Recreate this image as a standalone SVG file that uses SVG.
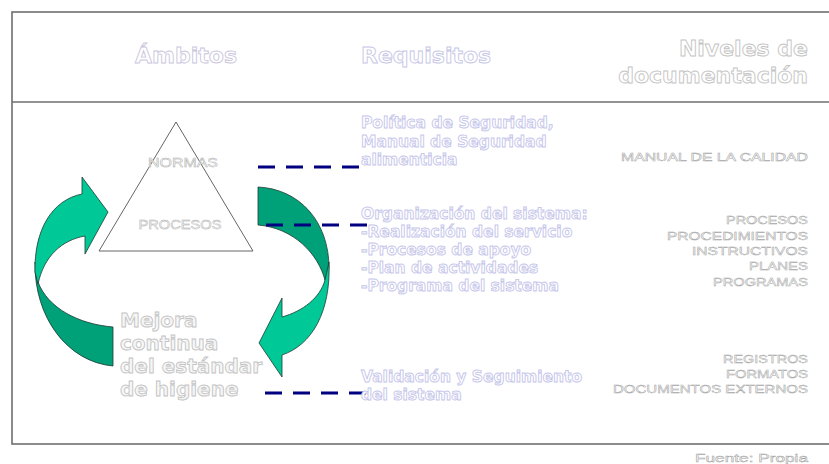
<svg xmlns="http://www.w3.org/2000/svg" width="829" height="464" viewBox="0 0 829 464">
<style>
.frame{fill:none;stroke:#6e6e6e;stroke-width:1.6}
.hdr{font-family:"DejaVu Sans",Verdana,sans-serif;font-weight:bold;font-size:22px;fill:#fff;stroke-width:0.9}
.req{font-family:"DejaVu Sans",Verdana,sans-serif;font-weight:bold;font-size:15.5px;fill:#fff;stroke:#c6c6ea;stroke-width:0.9}
.doc{font-family:"Liberation Sans",Arial,sans-serif;font-size:11.5px;fill:#fff;stroke:#a4a4a4;stroke-width:0.45;text-anchor:end}
.tri{font-family:"Liberation Sans",Arial,sans-serif;font-size:12.5px;fill:#fff;stroke:#aaaaaa;stroke-width:0.45;text-anchor:middle}
.mej{font-family:"DejaVu Sans",Verdana,sans-serif;font-weight:bold;font-size:20px;fill:#f6f6f6;stroke:#c4c4c4;stroke-width:0.9}
.light{fill:#00c896;stroke:#1e3b32;stroke-width:0.8}
.dark{fill:#00a078;stroke:#1e3b32;stroke-width:0.8}
.dash{stroke:#000080;stroke-width:3;stroke-dasharray:17 11;fill:none}
</style>
<g id="frame">
<rect class="frame" x="12" y="12" width="830" height="432"/>
<line class="frame" x1="12" y1="102" x2="829" y2="102"/>
</g>
<g id="headers">
<text class="hdr" x="186" y="63" text-anchor="middle" stroke="#cbc6de">Ámbitos</text>
<text class="hdr" x="361" y="63" stroke="#c6c6e6">Requisitos</text>
<text class="hdr" x="808" y="56" text-anchor="end" stroke="#c4c4c4">Niveles de</text>
<text class="hdr" x="808" y="83" text-anchor="end" stroke="#c4c4c4">documentación</text>
</g>
<g id="left-arrow">
<path class="dark" d="M35,262 C34,318 68,362 113,366 L113,327 C78,324 48,308 38,282 Z"/>
<path class="light" d="M35,272 C34,230 52,200 82,194 L82,177 L108,212 L85,254 L85,236 C62,240 44,256 38,284 Z"/>
</g>
<g id="right-arrow">
<path class="dark" d="M258,187 C300,189 329,222 329,268 L325,280 C318,254 294,228 258,225 Z"/>
<path class="light" d="M329,262 C331,312 312,345 282,355 L282,377 L259,343 L282,298 L282,317 C303,311 320,298 325,280 Z"/>
</g>
<g id="triangle">
<polygon points="176,122 99,251 253,251" fill="#fff" stroke="#666" stroke-width="1"/>
<text class="tri" x="183" y="167" textLength="70" lengthAdjust="spacingAndGlyphs">NORMAS</text>
<text class="tri" x="180" y="229" textLength="83" lengthAdjust="spacingAndGlyphs">PROCESOS</text>
</g>
<g id="mejora">
<text class="mej" x="120" y="327">Mejora</text>
<text class="mej" x="120" y="350">continua</text>
<text class="mej" x="120" y="373">del estándar</text>
<text class="mej" x="120" y="396">de higiene</text>
</g>
<g id="connectors">
<line class="dash" x1="258" y1="167" x2="361" y2="167"/>
<line class="dash" x1="266" y1="225" x2="367" y2="225"/>
<line class="dash" x1="265" y1="393" x2="367" y2="393"/>
</g>
<g id="req-politica">
<text class="req" x="361" y="128">Política de Seguridad,</text>
<text class="req" x="361" y="146.5">Manual de Seguridad</text>
<text class="req" x="361" y="165">alimenticia</text>
</g>
<g id="req-organizacion">
<text class="req" x="361" y="219">Organización del sistema:</text>
<text class="req" x="361" y="237">-Realización del servicio</text>
<text class="req" x="361" y="255">-Procesos de apoyo</text>
<text class="req" x="361" y="273">-Plan de actividades</text>
<text class="req" x="361" y="291">-Programa del sistema</text>
</g>
<g id="req-validacion">
<text class="req" x="361" y="382">Validación y Seguimiento</text>
<text class="req" x="361" y="400">del sistema</text>
</g>
<g id="doc-manual">
<text class="doc" x="808" y="161" textLength="187" lengthAdjust="spacingAndGlyphs">MANUAL DE LA CALIDAD</text>
</g>
<g id="doc-procesos">
<text class="doc" x="808" y="224" textLength="82" lengthAdjust="spacingAndGlyphs">PROCESOS</text>
<text class="doc" x="808" y="239.5" textLength="141" lengthAdjust="spacingAndGlyphs">PROCEDIMIENTOS</text>
<text class="doc" x="808" y="254.5" textLength="116" lengthAdjust="spacingAndGlyphs">INSTRUCTIVOS</text>
<text class="doc" x="808" y="270" textLength="59" lengthAdjust="spacingAndGlyphs">PLANES</text>
<text class="doc" x="808" y="285.5" textLength="95" lengthAdjust="spacingAndGlyphs">PROGRAMAS</text>
</g>
<g id="doc-registros">
<text class="doc" x="808" y="363" textLength="85" lengthAdjust="spacingAndGlyphs">REGISTROS</text>
<text class="doc" x="808" y="378" textLength="82" lengthAdjust="spacingAndGlyphs">FORMATOS</text>
<text class="doc" x="808" y="393" textLength="195" lengthAdjust="spacingAndGlyphs">DOCUMENTOS EXTERNOS</text>
</g>
<g id="fuente">
<text class="doc" x="808" y="462" font-size="14" textLength="113" lengthAdjust="spacingAndGlyphs">Fuente: Propia</text>
</g>
</svg>
